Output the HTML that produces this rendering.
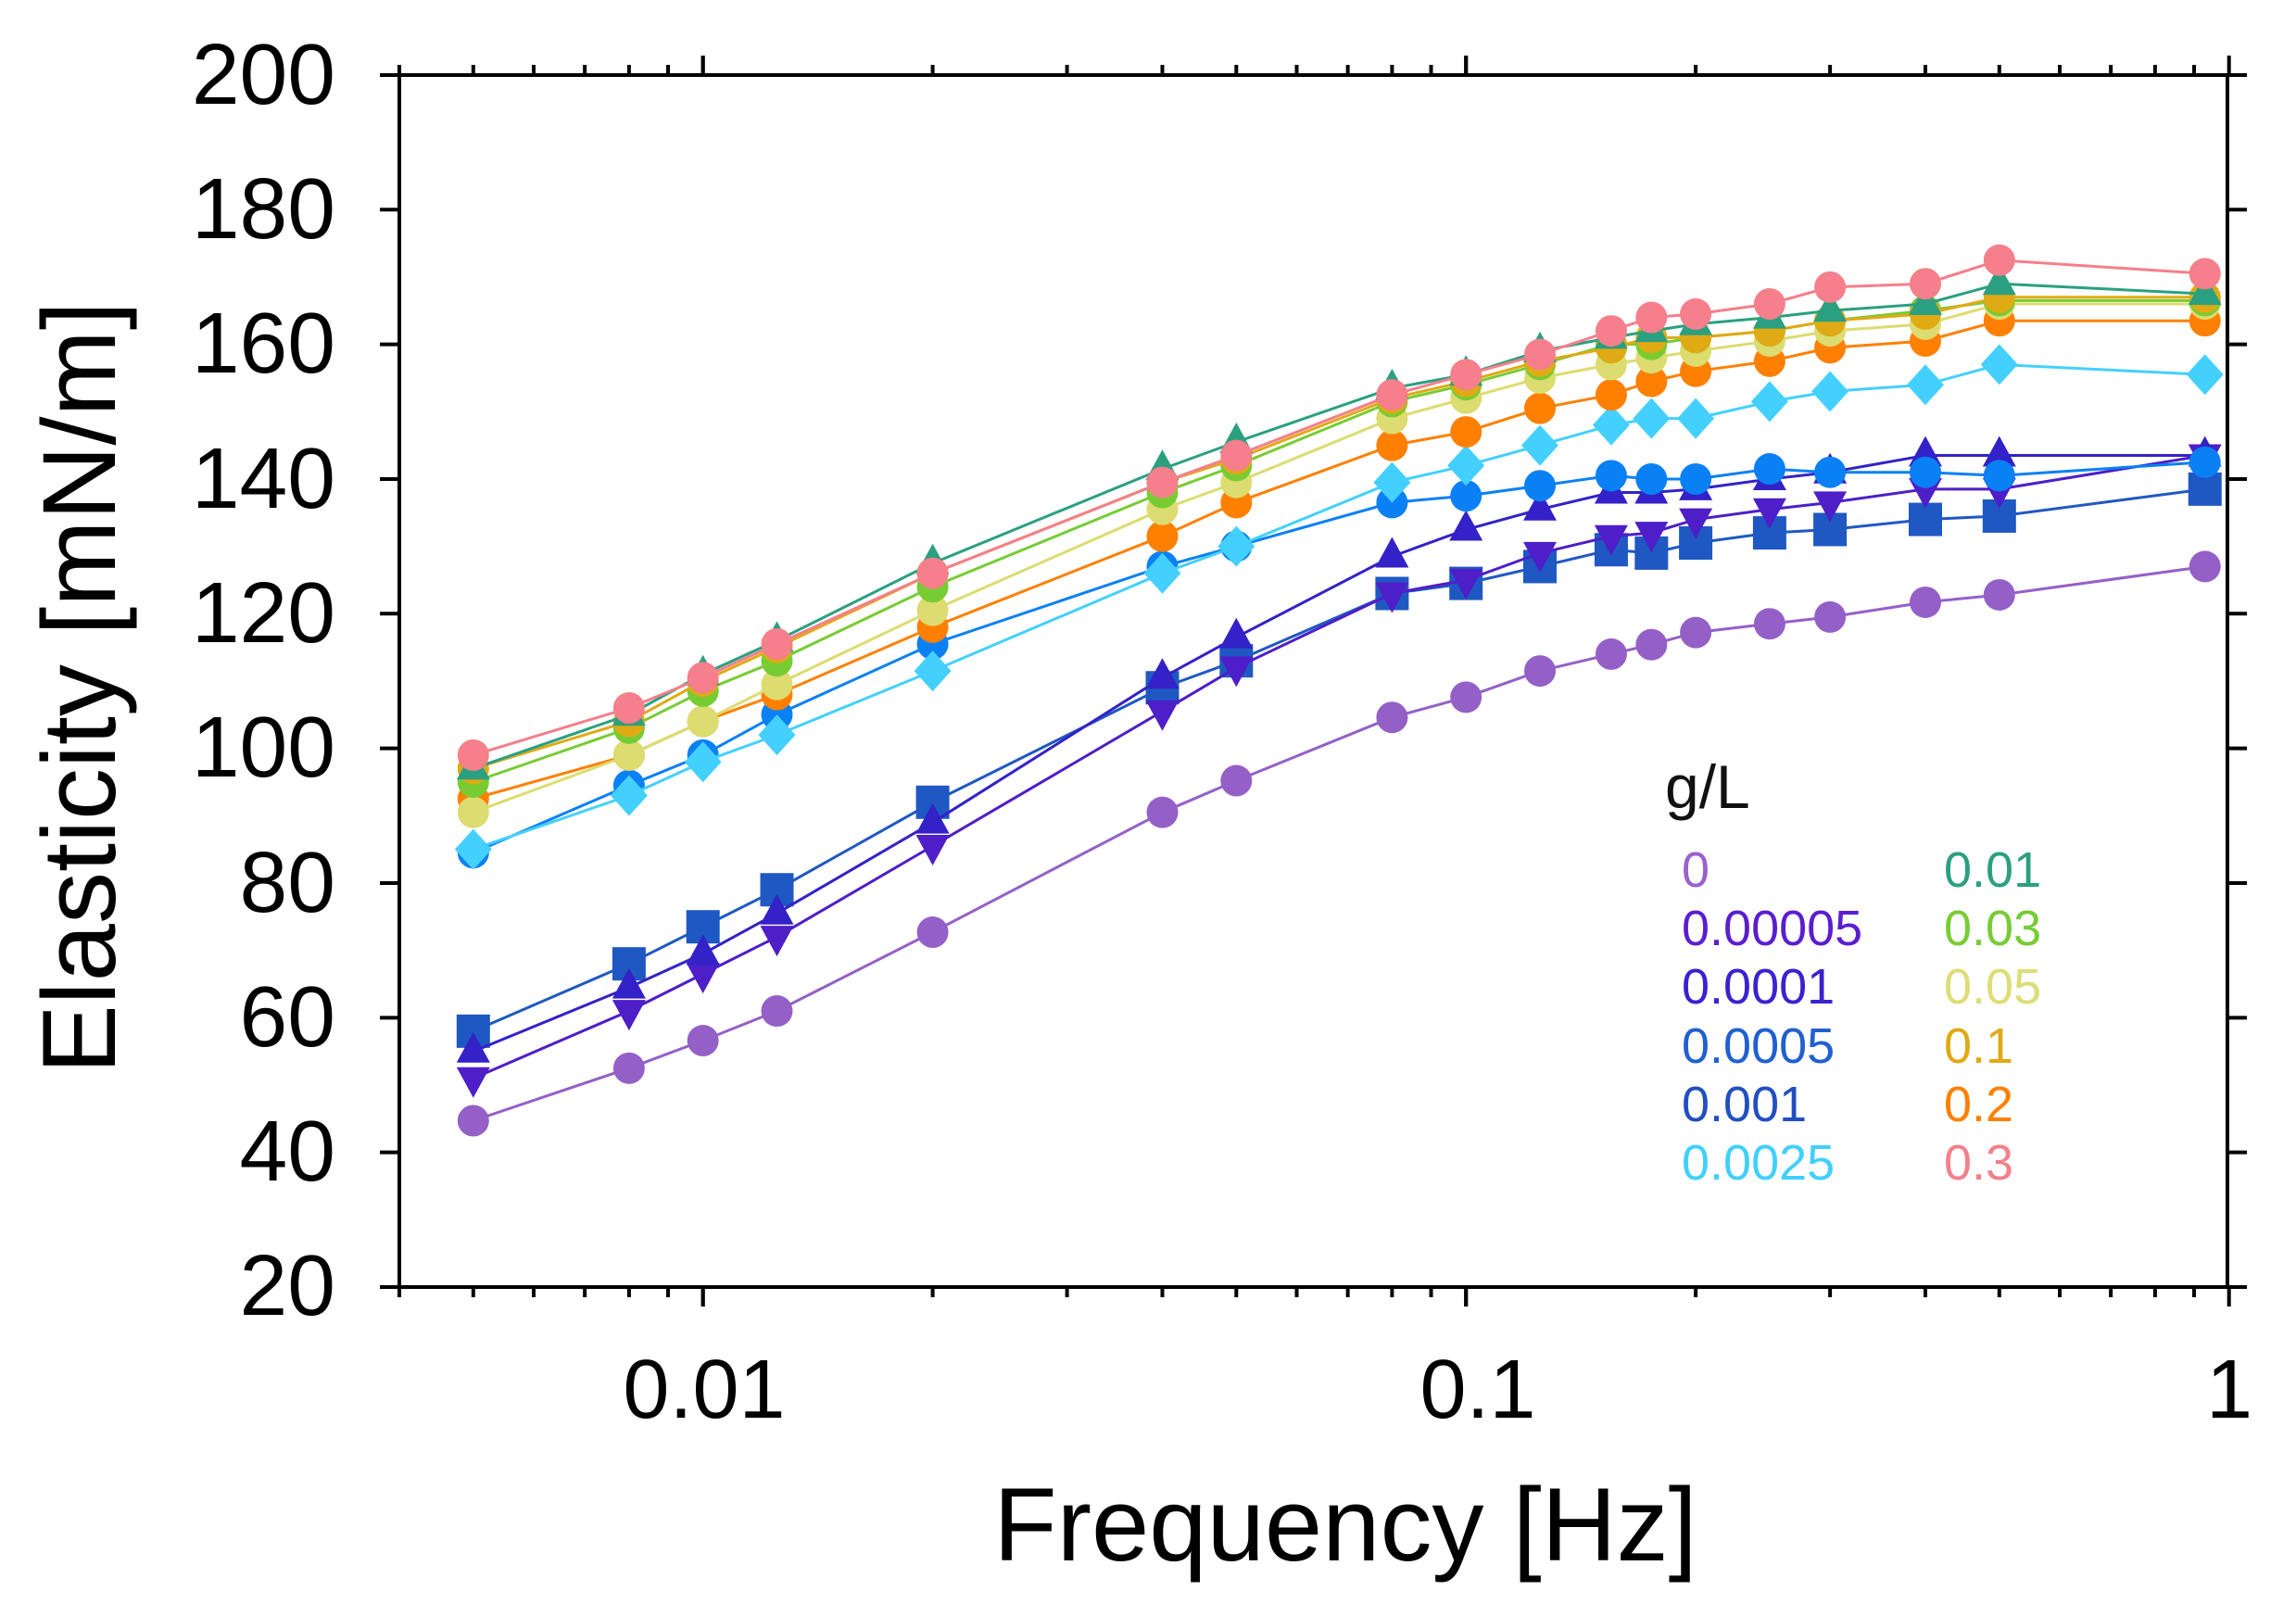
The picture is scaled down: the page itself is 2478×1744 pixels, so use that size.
<!DOCTYPE html>
<html><head><meta charset="utf-8"><style>
html,body{margin:0;padding:0;background:#fff;}
svg{display:block;}
text{font-family:"Liberation Sans",Arial,sans-serif;}
</style></head><body>
<svg id="s" width="2478" height="1744" viewBox="0 0 2478 1744" xmlns="http://www.w3.org/2000/svg">
<rect width="2478" height="1744" fill="#fff"/>
<g id="data"></g>
<g id="axes" stroke="#000" stroke-width="4" fill="none">
<rect x="431" y="81" width="1973" height="1308"/>
</g>
<g id="ticks" stroke="#000" stroke-width="4"></g>
<g font-size="93" text-anchor="end" fill="#000">
<text x="362" y="112">200</text>
<text x="362" y="257">180</text>
<text x="362" y="402">160</text>
<text x="362" y="548">140</text>
<text x="362" y="693">120</text>
<text x="362" y="838">100</text>
<text x="362" y="984">80</text>
<text x="362" y="1129">60</text>
<text x="362" y="1274">40</text>
<text x="362" y="1419">20</text>
</g>
<g font-size="90" text-anchor="middle" fill="#000">
<text x="760" y="1530">0.01</text>
<text x="1595" y="1530">0.1</text>
<text x="2406" y="1530">1</text>
</g>
<text x="1452" y="1684" font-size="112" text-anchor="middle">Frequency [Hz]</text>
<text transform="translate(124,742) rotate(-90)" font-size="112" text-anchor="middle">Elasticity [mN/m]</text>
<g font-size="54">
<text x="1797" y="872" fill="#111" font-size="66">g/L</text>
<text x="1815" y="957" fill="#9a60d0">0</text>
<text x="1815" y="1020" fill="#5a1ed0">0.00005</text>
<text x="1815" y="1083" fill="#3a22d0">0.0001</text>
<text x="1815" y="1147" fill="#2060d0">0.0005</text>
<text x="1815" y="1210" fill="#2050c0">0.001</text>
<text x="1815" y="1273" fill="#40d0ff">0.0025</text>
<text x="2098" y="957" fill="#2aa080">0.01</text>
<text x="2098" y="1020" fill="#77cc33">0.03</text>
<text x="2098" y="1083" fill="#dddd77">0.05</text>
<text x="2098" y="1147" fill="#e0aa15">0.1</text>
<text x="2098" y="1210" fill="#ff8000">0.2</text>
<text x="2098" y="1273" fill="#f57f8a">0.3</text>
</g>
</svg>
<script>
(function(){
var NS="http://www.w3.org/2000/svg";
function X(f){return 431+(Math.log10(f)-Math.log10(0.004))*823.5;}
function Y(v){return 1389-(v-20)*7.267;}
var tk=document.getElementById("ticks");
function ln(x1,y1,x2,y2){var l=document.createElementNS(NS,"line");l.setAttribute("x1",x1);l.setAttribute("y1",y1);l.setAttribute("x2",x2);l.setAttribute("y2",y2);tk.appendChild(l);}
var decs=[0.001,0.01,0.1];
for(var d=0;d<3;d++){for(var m=1;m<=10;m++){var f=decs[d]*m;if(f<0.004-1e-9||f>1+1e-9)continue;var x=X(f);var L=(m==1||m==10)?21:11;ln(x,1389,x,1389+L);ln(x,81,x,81-L);}}
for(var v=20;v<=200;v+=20){var y=Y(v);ln(410,y,431,y);ln(2404,y,2425,y);}
var F=[0.005,0.008,0.01,0.0125,0.02,0.04,0.05,0.08,0.1,0.125,0.155,0.175,0.2,0.25,0.3,0.4,0.5,0.93];
var S=[
["#9460c8","c",[44.7,52.5,56.6,61,72.7,90.5,95.2,104.6,107.6,111.5,114,115.4,117.2,118.5,119.5,121.7,122.8,127]],
["#1f58c2","s",[58,68,73.5,79,92,109,113,123,124.5,127,129.5,129,130.5,132,132.5,134,134.5,138.5]],
["#4e1ec8","v",[51,61,66.5,72,85.5,105.5,112,123,125,129,131.5,132,134,135.5,136.5,138.5,138.5,143.5]],
["#3322c8","t",[55,64.5,69.5,75.5,89,110.5,116.5,128.5,132.5,135.5,138,138,138.5,140,141,143.5,143.5,143.5]],
["#0a80f5","c",[84.5,94.5,99,105,115.5,127,130,136.5,137.5,139,140.5,140,140,141.5,141,141,140.5,142.5]],
["#44d0ff","d",[85,93,98,102,111.5,126,130,139.5,142,145,148,149,149,151.5,153,154,157,155.5]],
["#ff8000","c",[92.5,99,104,108,118,131.5,136.5,145,147,150.5,152.5,154.5,156,157.5,159.5,160.5,163.5,163.5]],
["#dcdc70","c",[90.5,99,104,109.5,120.5,135.5,139.5,149,152,155,157,158,159,160.5,162,163,166,166]],
["#77cc33","c",[95,103,108.5,113,124,138,142,151.5,154,157,160,160,161,162,163.5,165,166.5,166.5]],
["#e0aa15","c",[97,104,110,115,126,139.5,143,152,154.5,157.5,159.5,161,161,162,163.5,164.5,167,167]],
["#2aa080","t",[97,105,111,116,127.5,141.5,145.5,153.5,155.5,159,161,162,163,164,165,166,169,167.5]],
["#f57f8a","c",[99,106,110.5,115.5,126,139.5,143.5,152.5,155.5,158.5,162,164,164.5,166,168.5,169,172.5,170.5]]
];
var g=document.getElementById("data");
S.forEach(function(s){
 var pts=F.map(function(f,i){return X(f).toFixed(1)+","+Y(s[2][i]).toFixed(1);}).join(" ");
 var p=document.createElementNS(NS,"polyline");p.setAttribute("points",pts);p.setAttribute("fill","none");p.setAttribute("stroke",s[0]);p.setAttribute("stroke-width","3");g.appendChild(p);
 F.forEach(function(f,i){var x=X(f),y=Y(s[2][i]),e;
  if(s[1]=="c"){e=document.createElementNS(NS,"circle");e.setAttribute("cx",x);e.setAttribute("cy",y);e.setAttribute("r",17);}
  else if(s[1]=="s"){e=document.createElementNS(NS,"rect");e.setAttribute("x",x-18);e.setAttribute("y",y-18);e.setAttribute("width",36);e.setAttribute("height",36);}
  else {e=document.createElementNS(NS,"polygon");var q;
   if(s[1]=="t")q=[[x,y-21],[x+18,y+12],[x-18,y+12]];
   else if(s[1]=="v")q=[[x,y+21],[x+18,y-12],[x-18,y-12]];
   else q=[[x,y-22],[x+20,y],[x,y+22],[x-20,y]];
   e.setAttribute("points",q.map(function(a){return a[0].toFixed(1)+","+a[1].toFixed(1);}).join(" "));}
  e.setAttribute("fill",s[0]);g.appendChild(e);});
});
})();
</script>
</body></html>
